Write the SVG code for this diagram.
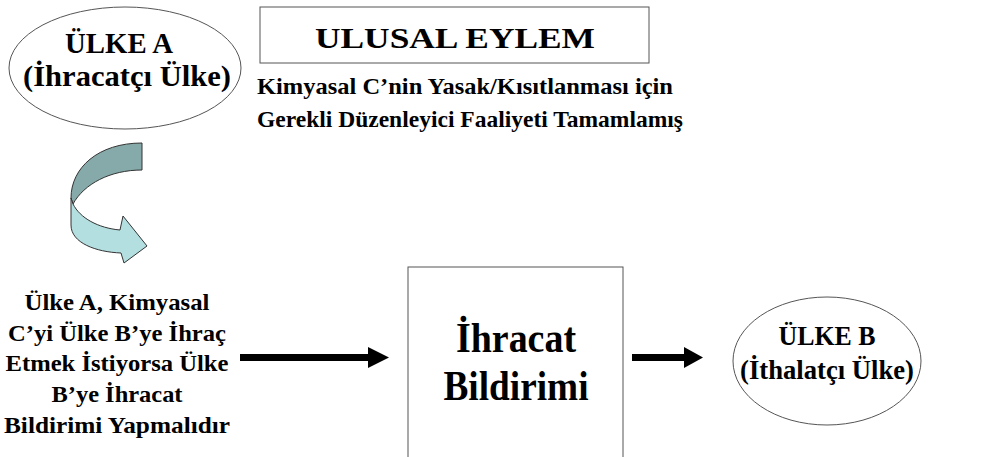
<svg xmlns="http://www.w3.org/2000/svg" width="984" height="457" viewBox="0 0 984 457">
<rect width="984" height="457" fill="#fff"/>
<g id="ulkeA">
<ellipse cx="125" cy="68" rx="116" ry="61" fill="#fff" stroke="#555" stroke-width="1"/>
<text x="119" y="53" font-family="Liberation Serif" font-weight="bold" font-size="29" text-anchor="middle" textLength="108" lengthAdjust="spacingAndGlyphs">ÜLKE A</text>
<text x="127" y="86" font-family="Liberation Serif" font-weight="bold" font-size="29" text-anchor="middle" textLength="208" lengthAdjust="spacingAndGlyphs">(İhracatçı Ülke)</text>
</g>
<g id="ulusal">
<rect x="260" y="7" width="389" height="56" fill="#fff" stroke="#555" stroke-width="1"/>
<text x="455" y="48" font-family="Liberation Serif" font-weight="bold" font-size="30" text-anchor="middle" textLength="280" lengthAdjust="spacingAndGlyphs">ULUSAL EYLEM</text>
<text x="257" y="94" font-family="Liberation Serif" font-weight="bold" font-size="24" textLength="416" lengthAdjust="spacingAndGlyphs">Kimyasal C’nin Yasak/Kısıtlanması için</text>
<text x="257" y="127" font-family="Liberation Serif" font-weight="bold" font-size="24" textLength="426" lengthAdjust="spacingAndGlyphs">Gerekli Düzenleyici Faaliyeti Tamamlamış</text>
</g>
<g id="curvedArrow" stroke="#333" stroke-width="1" stroke-linejoin="round">
<path d="M142,143 C98,143 71,168 71,198 L73,204 C84,184 110,170 142,170 Z" fill="#86aaa9"/>
<path d="M71,198 L71,225 C71,243 96,252 121,253 L124,263 L147,246 L123,216 L120,230 C98,228 80,218 73,204 Z" fill="#b4dfe1"/>
</g>
<g id="kosul">
<text x="117" y="310" font-family="Liberation Serif" font-weight="bold" font-size="24" text-anchor="middle" textLength="185" lengthAdjust="spacingAndGlyphs">Ülke A, Kimyasal</text>
<text x="117" y="341" font-family="Liberation Serif" font-weight="bold" font-size="24" text-anchor="middle" textLength="218" lengthAdjust="spacingAndGlyphs">C’yi Ülke B’ye İhraç</text>
<text x="117" y="371" font-family="Liberation Serif" font-weight="bold" font-size="24" text-anchor="middle" textLength="223" lengthAdjust="spacingAndGlyphs">Etmek İstiyorsa Ülke</text>
<text x="117" y="402" font-family="Liberation Serif" font-weight="bold" font-size="24" text-anchor="middle" textLength="131" lengthAdjust="spacingAndGlyphs">B’ye İhracat</text>
<text x="117" y="433" font-family="Liberation Serif" font-weight="bold" font-size="24" text-anchor="middle" textLength="226" lengthAdjust="spacingAndGlyphs">Bildirimi Yapmalıdır</text>
</g>
<g id="bildirim">
<rect x="408" y="267" width="215" height="200" fill="#fff" stroke="#555" stroke-width="1"/>
<text x="516" y="352" font-family="Liberation Serif" font-weight="bold" font-size="43" text-anchor="middle" textLength="120" lengthAdjust="spacingAndGlyphs">İhracat</text>
<text x="516" y="400" font-family="Liberation Serif" font-weight="bold" font-size="43" text-anchor="middle" textLength="145" lengthAdjust="spacingAndGlyphs">Bildirimi</text>
</g>
<g id="ulkeB">
<ellipse cx="827" cy="361" rx="94" ry="64" fill="#fff" stroke="#555" stroke-width="1"/>
<text x="827" y="345" font-family="Liberation Serif" font-weight="bold" font-size="27" text-anchor="middle" textLength="97" lengthAdjust="spacingAndGlyphs">ÜLKE B</text>
<text x="827" y="379" font-family="Liberation Serif" font-weight="bold" font-size="27" text-anchor="middle" textLength="174" lengthAdjust="spacingAndGlyphs">(İthalatçı Ülke)</text>
</g>
<g id="connectors" fill="#000">
<rect x="240" y="354" width="130" height="7"/>
<polygon points="368,347 389,357.5 368,368"/>
<rect x="632" y="354" width="54" height="7"/>
<polygon points="684,347 703,357.5 684,368"/>
</g>
</svg>
